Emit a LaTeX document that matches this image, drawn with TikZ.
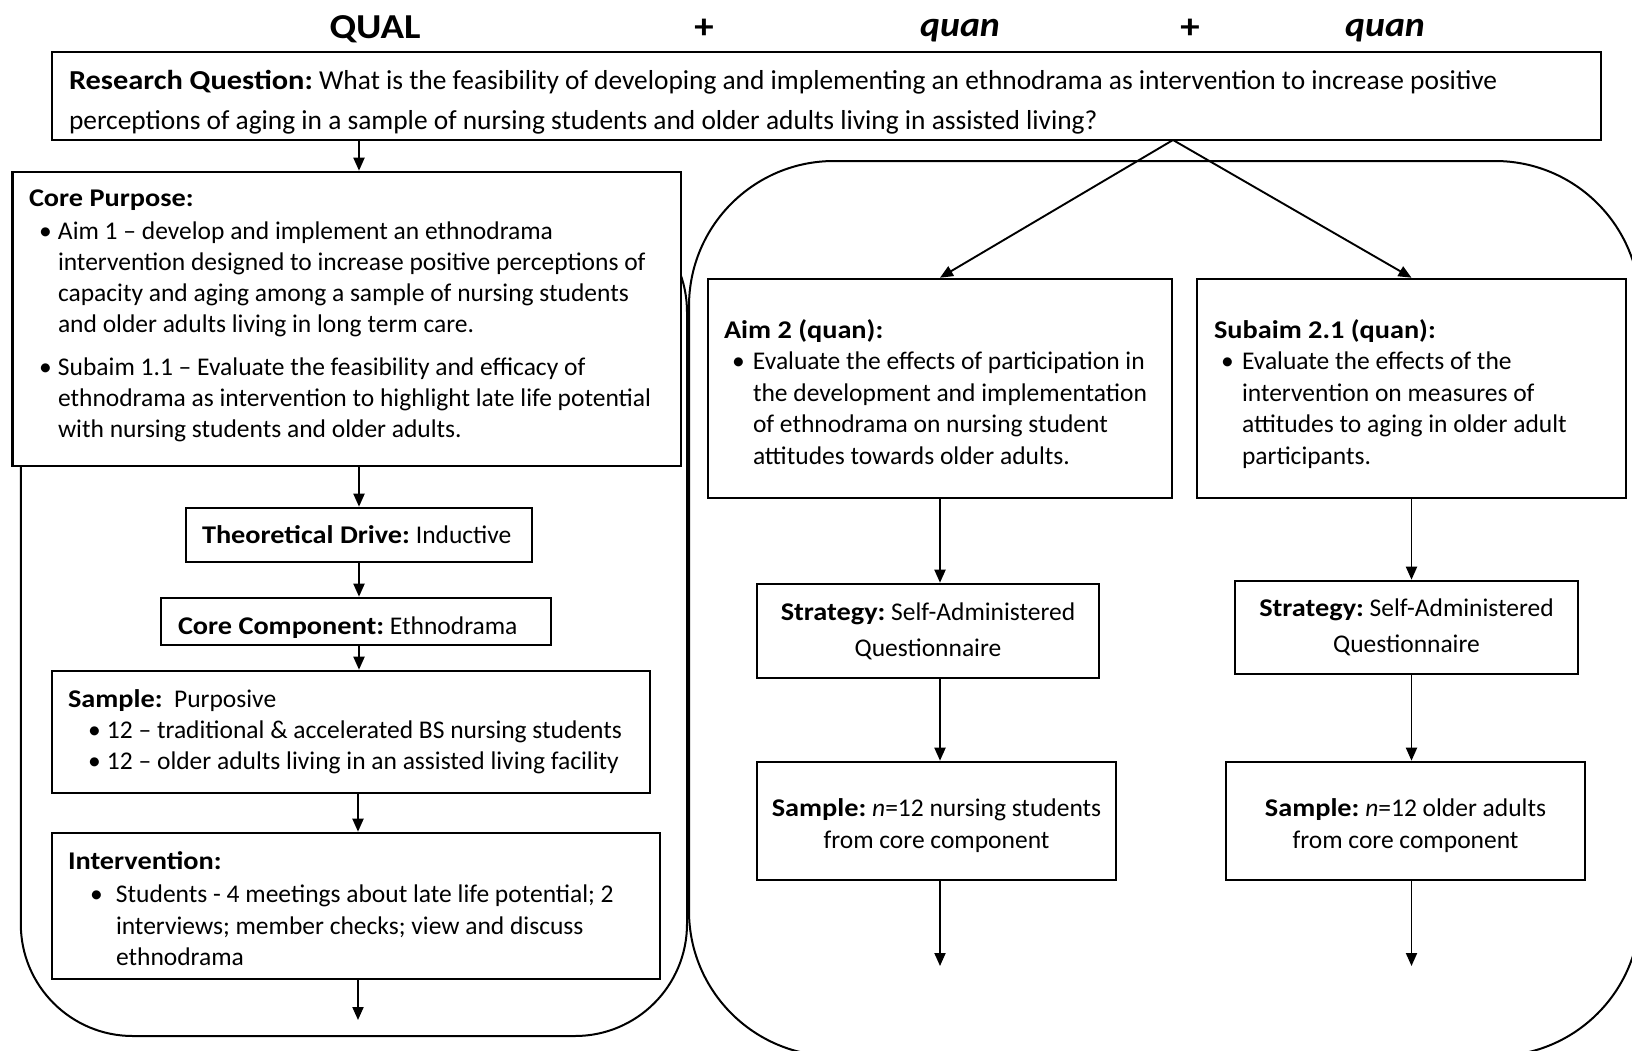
\documentclass[tikz,border=0pt]{standalone}
\usepackage{fontspec}
\setmainfont{Carlito}[BoldFeatures={FakeStretch=1.11}, BoldItalicFeatures={FakeStretch=1.08}]
\usetikzlibrary{arrows.meta, positioning}

% bullet with indent and label box
\newcommand{\bul}[2]{\hspace*{#1}\makebox[#2][l]{\textbullet}}
% invisible strut to push a first line down / a last line up
\newcommand{\up}[1]{\rule{0pt}{#1}}
\newcommand{\dn}[1]{\rule[-#1]{0pt}{1pt}}

\begin{document}
\frenchspacing
\begin{tikzpicture}[x=1pt, y=-1pt,
    box/.style={draw, fill=white, line width=2.6pt, inner xsep=16pt, inner ysep=0pt,
                align=flush left, font=\fontsize{25.5}{31}\selectfont},
    cbox/.style={box, align=center, inner xsep=8pt},
    arr/.style={line width=1.9pt, -{Triangle[width=11pt, length=13pt]}},
    frame/.style={line width=2pt, rounded corners=#1},
    head/.style={font=\fontsize{35}{40}\selectfont\bfseries}]

    \useasboundingbox (0,0) rectangle (1632,1050);

    % =================================================================
    % 1. HEADINGS
    % =================================================================
    \node[head] (qual) at (375,29) {QUAL};
    \node[head] (plusA) at (704,29) {+};
    \node[head, font=\fontsize{35}{40}\selectfont\bfseries\itshape] (quanA) at (960,31) {quan};
    \node[head] (plusB) at (1190,29) {+};
    \node[head, font=\fontsize{35}{40}\selectfont\bfseries\itshape] (quanB) at (1385,31) {quan};

    % =================================================================
    % 2. ROUNDED FRAMES (QUAL left, quan right)
    % =================================================================
    \draw[frame=112pt] (20.8,200) rectangle (687,1036);
    \draw[frame=145pt] (689,161) rectangle (1640,1056);

    % =================================================================
    % 3. RESEARCH QUESTION AND QUAL COLUMN
    % =================================================================
    \node[box, minimum width=1549pt, minimum height=88pt, text width=1515pt,
          font=\fontsize{27.4}{40}\selectfont] (rq) at (826.5,96)
        {\up{32pt}\textbf{Research Question:} What is the feasibility of developing and implementing an ethnodrama as intervention to increase positive\\
         perceptions of aging in a sample of nursing students and older adults living in assisted living?};

    \node[box, minimum width=668.5pt, minimum height=294pt, text width=635.5pt] (core) at (346.75,319)
        {\textbf{Core Purpose:}\\[2pt]
         \bul{10pt}{19pt}Aim 1 -- develop and implement an ethnodrama\\
         \hspace*{29pt}intervention designed to increase positive perceptions of\\
         \hspace*{29pt}capacity and aging among a sample of nursing students\\
         \hspace*{29pt}and older adults living in long term care.\\[12pt]
         \bul{10pt}{19pt}Subaim 1.1 -- Evaluate the feasibility and efficacy of\\
         \hspace*{29pt}ethnodrama as intervention to highlight late life potential\\
         \hspace*{29pt}with nursing students and older adults.\dn{11pt}};

    \node[box, minimum width=346pt, minimum height=54pt, text width=314pt] (theo) at (359,535)
        {\textbf{Theoretical Drive:} Inductive};

    \node[box, minimum width=390pt, minimum height=47pt, text width=356pt] (comp) at (356,621.5)
        {\up{30pt}\textbf{Core Component:} Ethnodrama};

    \node[box, minimum width=598pt, minimum height=122pt, text width=566pt] (samp) at (351,732)
        {\textbf{Sample:}\ \ Purposive\\
         \bul{20pt}{19pt}12 -- traditional \& accelerated BS nursing students\\
         \bul{20pt}{19pt}12 -- older adults living in an assisted living facility};

    \node[box, minimum width=608pt, minimum height=146pt, text width=576pt,
          font=\fontsize{25.5}{31.5}\selectfont] (interv) at (356,906)
        {\up{23pt}\textbf{Intervention:}\\[2pt]
         \bul{22pt}{26pt}Students - 4 meetings about late life potential; 2\\
         \hspace*{48pt}interviews; member checks; view and discuss\\
         \hspace*{48pt}ethnodrama};

    \coordinate (endL) at (358,1020);

    % =================================================================
    % 4. quan COLUMNS
    % =================================================================
    \coordinate (apex) at (1173,140);

    \node[box, minimum width=464pt, minimum height=219pt, text width=432pt,
          font=\fontsize{25.5}{31.5}\selectfont] (aimtwo) at (940,388.5)
        {\up{25.5pt}\textbf{Aim 2 (quan):}\\
         \bul{8pt}{21pt}Evaluate the effects of participation in\\
         \hspace*{29pt}the development and implementation\\
         \hspace*{29pt}of ethnodrama on nursing student\\
         \hspace*{29pt}attitudes towards older adults.};

    \node[box, minimum width=429pt, minimum height=219pt, text width=395pt,
          font=\fontsize{25.5}{31.5}\selectfont] (subaim) at (1411.5,388.5)
        {\up{29.5pt}\textbf{Subaim 2.1 (quan):}\\
         \bul{7pt}{21pt}Evaluate the effects of the\\
         \hspace*{28pt}intervention on measures of\\
         \hspace*{28pt}attitudes to aging in older adult\\
         \hspace*{28pt}participants.};

    \node[cbox, minimum width=342pt, minimum height=94pt, font=\fontsize{25.5}{36}\selectfont] (stratA) at (928,631)
        {\textbf{Strategy:} Self-Administered\\ Questionnaire};
    \node[cbox, minimum width=359pt, minimum height=118pt, font=\fontsize{25.5}{32}\selectfont] (sampA) at (936.5,821)
        {\up{27pt}\textbf{Sample:} \textit{n}=12 nursing students\\ from core component};

    \node[cbox, minimum width=343pt, minimum height=93pt, font=\fontsize{25.5}{36}\selectfont] (stratB) at (1406.5,627.5)
        {\textbf{Strategy:} Self-Administered\\ Questionnaire};
    \node[cbox, minimum width=359pt, minimum height=118pt, font=\fontsize{25.5}{32}\selectfont] (sampB) at (1405.5,821)
        {\up{27pt}\textbf{Sample:} \textit{n}=12 older adults\\ from core component};

    \coordinate (endA) at (940,966);
    \coordinate (endB) at (1411.5,966);

    % =================================================================
    % 5. ARROWS
    % =================================================================
    \draw[arr] (rq.south -| theo) -- (core.north -| theo);
    \draw[arr] (core.south -| theo) -- (theo.north);
    \draw[arr] (theo.south) -- (comp.north -| theo);
    \draw[arr] (comp.south -| theo) -- (samp.north -| theo);
    \draw[arr] (samp.south -| endL) -- (interv.north -| endL);
    \draw[arr] (interv.south -| endL) -- (endL);

    \draw[arr] (apex) -- (aimtwo.north);
    \draw[arr] (apex) -- (subaim.north);

    \draw[arr] (aimtwo.south) -- (stratA.north -| aimtwo.south);
    \draw[arr] (stratA.south -| aimtwo.south) -- (sampA.north -| aimtwo.south);
    \draw[arr] (sampA.south -| endA) -- (endA);

    \draw[arr] (subaim.south) -- (stratB.north -| subaim.south);
    \draw[arr] (stratB.south -| subaim.south) -- (sampB.north -| subaim.south);
    \draw[arr] (sampB.south -| endB) -- (endB);

\end{tikzpicture}
\end{document}
